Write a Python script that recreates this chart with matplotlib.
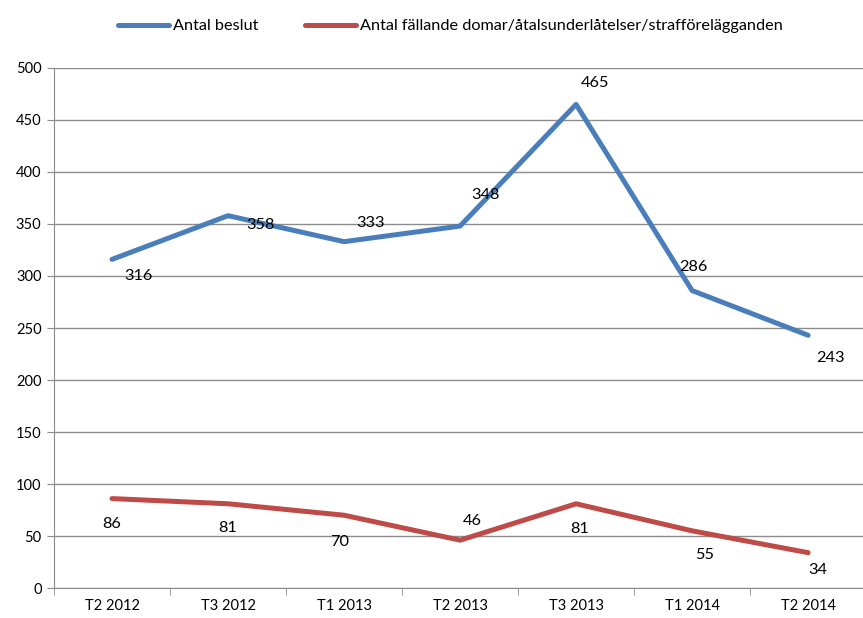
import matplotlib.pyplot as plt
import numpy as np

# ========== Data ==========
periods = ['T2 2012', 'T3 2012', 'T1 2013', 'T2 2013', 'T3 2013', 'T1 2014', 'T2 2014']
beslut = [316, 358, 333, 348, 465, 286, 243]
fallande = [86, 81, 70, 46, 81, 55, 34]

# label offsets in pixels (dx, dy), as placed in the original chart
beslut_offsets = [(26, -17), (32, -9), (26, 19), (25, 31), (19, 21), (1, 24), (22, -23)]
fallande_offsets = [(0, -25), (0, -24), (-4, -27), (12, 19), (4, -25), (13, -24), (10, -17)]

plt.rcParams['font.family'] = ['Lato', 'DejaVu Sans']

blue = '#4a7ebb'
red = '#be4b48'
grid_col = '#8c8c8c'

fig = plt.figure(figsize=(8.63, 6.18), dpi=100)
ax = fig.add_axes([0.0626, 0.0485, 0.941, 0.8415])

x = np.arange(len(periods))
ax.plot(x, beslut, color=blue, lw=3.6, label='Antal beslut', solid_capstyle='round')
ax.plot(x, fallande, color=red, lw=3.6,
        label='Antal fällande domar/åtalsunderlåtelser/strafförelägganden',
        solid_capstyle='round')

for xi, v, (dx, dy) in zip(x, beslut, beslut_offsets):
    ax.annotate(str(v), (xi, v), xytext=(dx, dy), textcoords='offset pixels',
                ha='center', va='center', fontsize=11.8)
for xi, v, (dx, dy) in zip(x, fallande, fallande_offsets):
    ax.annotate(str(v), (xi, v), xytext=(dx, dy), textcoords='offset pixels',
                ha='center', va='center', fontsize=11.8)

ax.set_xlim(-0.5, len(periods) - 0.5)
ax.set_ylim(0, 500)
ax.set_yticks(range(0, 501, 50))
ax.set_xticks(x)
ax.set_xticklabels(periods)
ax.set_xticks(np.arange(-0.5, len(periods), 1), minor=True)
ax.tick_params(axis='x', which='major', length=0, labelsize=10.5, pad=8)
ax.tick_params(axis='x', which='minor', length=5, color=grid_col)
ax.tick_params(axis='y', length=5, color=grid_col, labelsize=10.5, pad=4)

ax.yaxis.grid(True, color=grid_col, lw=1)
ax.set_axisbelow(True)
for side in ['top', 'right']:
    ax.spines[side].set_visible(False)
for side in ['left', 'bottom']:
    ax.spines[side].set_color(grid_col)

fig.legend(loc='upper center', bbox_to_anchor=(0.522, 0.993), ncol=2, frameon=False,
           fontsize=11.7, handlelength=3.1, handletextpad=0.25, columnspacing=2.9)

plt.savefig('out.png', dpi=100)
